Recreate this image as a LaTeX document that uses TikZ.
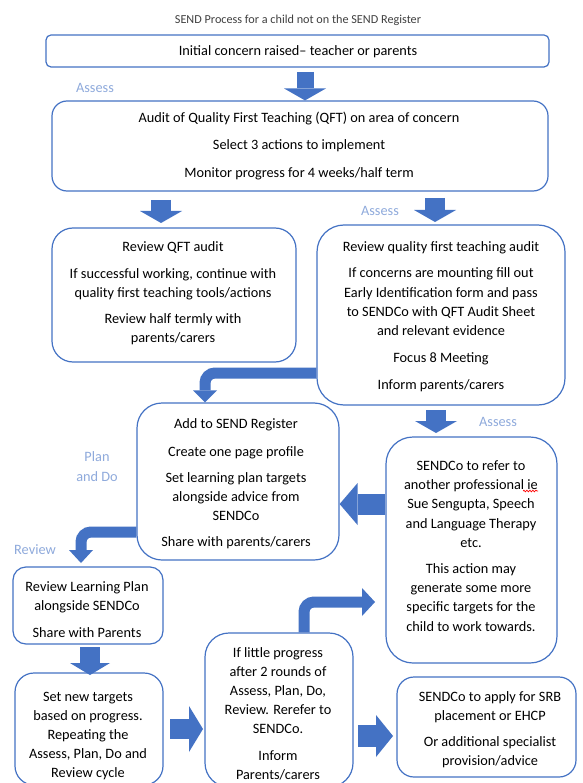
\documentclass[tikz,border=0pt]{standalone}
\usepackage{fontspec}
\setmainfont{Carlito}
\usetikzlibrary{arrows.meta,decorations.pathmorphing}
\definecolor{boxblue}{HTML}{4472C4}
\definecolor{arrowblue}{HTML}{4472C4}
\definecolor{labelblue}{HTML}{8FAADC}
\definecolor{titlegray}{HTML}{404040}
\tikzset{
  bx/.style={draw=boxblue, line width=1.2pt, fill=white, inner sep=0pt},
  txt/.style={align=center, font=\fontsize{14.3}{19.2}\selectfont, text=black, inner sep=0pt},
  lbl/.style={align=center, font=\fontsize{14.3}{20}\selectfont, text=labelblue, inner sep=0pt},
  blk/.style={arrowblue, line width=#1},
  tipv/.style={-{Triangle[width=#1,length=12pt,line width=0pt]}},
}
\begin{document}
\begin{tikzpicture}[x=1pt,y=-1pt]
\useasboundingbox (0,0) rectangle (582,783);
\clip (0,0) rectangle (582,783);
\fill[white] (0,0) rectangle (582,783);

% title
\node[inner sep=0pt, font=\fontsize{12.2}{14}\selectfont, text=titlegray] (title) at (298,20) {SEND Process for a child not on the SEND Register};

% boxes
\node[bx, rounded corners=5pt, minimum width=503pt, minimum height=32pt] (b1) at (297.5,51) {};
\node[bx, rounded corners=15pt, minimum width=496pt, minimum height=90pt] (b2) at (300,146) {};
\node[bx, rounded corners=21pt, minimum width=244pt, minimum height=134pt] (b3) at (174,295) {};
\node[bx, rounded corners=27pt, minimum width=248pt, minimum height=180pt] (b4) at (441,315) {};
\node[bx, rounded corners=25pt, minimum width=202pt, minimum height=157pt] (b5) at (238,481.5) {};
\node[bx, rounded corners=27pt, minimum width=171pt, minimum height=226pt] (b6) at (471.5,550) {};
\node[bx, rounded corners=13pt, minimum width=150pt, minimum height=77pt] (b7) at (88,605.5) {};
\node[bx, rounded corners=19pt, minimum width=148pt, minimum height=112pt] (b8) at (89,729) {};
\node[bx, rounded corners=24pt, minimum width=148pt, minimum height=154pt] (b9) at (279,710) {};
\node[bx, rounded corners=17pt, minimum width=179pt, minimum height=100pt] (b10) at (486.5,727) {};

% texts
\node[txt] (t1) at (298,51.5) {Initial concern raised-- teacher or parents};
\node[txt] (t2) at (299,146) {Audit of Quality First Teaching (QFT) on area of concern\\[8.5pt]
Select 3 actions to implement\\[8.5pt]
Monitor progress for 4 weeks/half term};
\node[txt] (t3) at (173,293.5) {Review QFT audit\\[7pt]
If successful working, continue with\\
quality first teaching tools/actions\\[7pt]
Review half termly with\\
parents/carers};
\node[txt] (t4) at (441,317) {Review quality first teaching audit\\[7pt]
If concerns are mounting fill out\\
Early Identification form and pass\\
to SENDCo with QFT Audit Sheet\\
and relevant evidence\\[8pt]
Focus 8 Meeting\\[8pt]
Inform parents/carers};
\node[txt] (t5) at (236,484) {Add to SEND Register\\[8pt]
Create one page profile\\[7pt]
Set learning plan targets\\
alongside advice from\\
SENDCo\\[7pt]
Share with parents/carers};
\node[txt] (t6) at (471,546) {SENDCo to refer to\\
another professional ie\\
Sue Sengupta, Speech\\
and Language Therapy\\
etc.\\[7pt]
This action may\\
generate some more\\
specific targets for the\\
child to work towards.};
\node[txt] (t7) at (87,609.5) {Review Learning Plan\\
alongside SENDCo\\[7pt]
Share with Parents};
\node[txt] (t8) at (88,736) {Set new targets\\
based on progress.\\
Repeating the\\
Assess, Plan, Do and\\
Review cycle};
\node[txt] (t9) at (278,713.5) {If little progress\\
after 2 rounds of\\
Assess, Plan, Do,\\
Review. Rerefer to\\
SENDCo.\\[7pt]
Inform\\
Parents/carers};
\node[txt] (t10) at (490,729.5) {SENDCo to apply for SRB\\
placement or EHCP\\[7pt]
Or additional specialist\\
provision/advice};

% spell-check squiggle
\draw[red, line width=0.7pt, decorate, decoration={snake, amplitude=0.8pt, segment length=3pt}] (523,491) -- (538,491);

% labels
\node[lbl] (l1) at (95,88) {Assess};
\node[lbl] (l2) at (380,211) {Assess};
\node[lbl] (l3) at (498,422) {Assess};
\node[lbl] (l4) at (97,467) {Plan\\and Do};
\node[lbl] (l5) at (35,550) {Review};

% connector end points
\coordinate (a1s) at (305,72);   \coordinate (a1e) at (b2.north -| 305,0);
\coordinate (a2s) at (161,200);  \coordinate (a2e) at (161,223);
\coordinate (a3s) at (435,198);  \coordinate (a3e) at (435,222);
\coordinate (a4s) at (436,410);  \coordinate (a4e) at (436,433);
\coordinate (a5s) at (b6.west |- 0,504); \coordinate (a5e) at (b5.east |- 0,504);
\coordinate (a6s) at (90,647);   \coordinate (a6e) at (90,675);
\coordinate (a7s) at (170,729);  \coordinate (a7e) at (203,729);
\coordinate (a8s) at (358,736);  \coordinate (a8e) at (393,736);
\coordinate (c1s) at (b4.west |- 0,373); \coordinate (c1e) at (b5.north -| 205,0);
\coordinate (c2s) at (b5.west |- 0,532); \coordinate (c2e) at (81,563);
\coordinate (c3s) at (b9.north -| 304,0); \coordinate (c3e) at (375,602);

% block arrows
\draw[blk=17pt, tipv=42pt] (a1s) -- (a1e);
\draw[blk=20pt, tipv=42pt] (a2s) -- (a2e);
\draw[blk=20pt, tipv=42pt] (a3s) -- (a3e);
\draw[blk=20pt, tipv=42pt] (a4s) -- (a4e);
\draw[blk=21pt, -{Triangle[width=42pt,length=18pt,line width=0pt]}] (a5s) -- (a5e);
\draw[blk=20pt, tipv=40pt] (a6s) -- (a6e);
\draw[blk=20pt, -{Triangle[width=46pt,length=14pt,line width=0pt]}] (a7s) -- (a7e);
\draw[blk=22pt, -{Triangle[width=42pt,length=17pt,line width=0pt]}] (a8s) -- (a8e);
\draw[blk=11pt, rounded corners=10pt, -{Triangle[width=24pt,length=12pt,line width=0pt]}] (c1s) -| (c1e);
\draw[blk=11pt, rounded corners=10pt, -{Triangle[width=24pt,length=13pt,line width=0pt]}] (c2s) -| (c2e);
\draw[blk=11pt, rounded corners=10pt, -{Triangle[width=28pt,length=13pt,line width=0pt]}] (c3s) |- (c3e);
\end{tikzpicture}
\end{document}
